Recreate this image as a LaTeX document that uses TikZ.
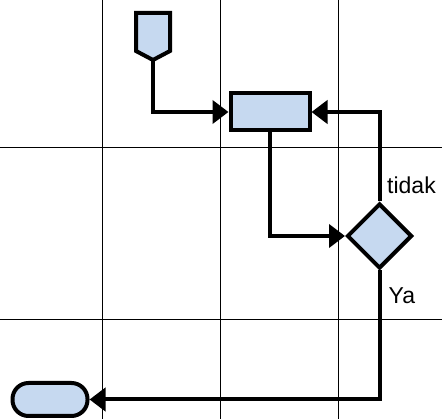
\documentclass[tikz,border=0pt]{standalone}
\usepackage{fontspec}
\setmainfont{Liberation Sans}
\usetikzlibrary{shapes.geometric,arrows.meta}
\definecolor{boxfill}{RGB}{198,217,240}
\tikzset{
  gridline/.style={line width=1pt,black},
  shapebox/.style={draw=black,line width=4pt,fill=boxfill,inner sep=0pt},
  proc/.style={shapebox,rectangle,minimum width=79pt,minimum height=37pt},
  decision/.style={shapebox,diamond,aspect=1,minimum width=65pt,minimum height=65pt},
  term/.style={shapebox,rectangle,rounded corners=16pt,minimum width=75pt,minimum height=33pt},
  conn/.style={line width=4pt,-{Triangle[length=16pt,width=23pt]}},
  lbl/.style={font=\fontsize{23}{27}\selectfont,inner sep=0pt,anchor=base west}
}
\begin{document}
\begin{tikzpicture}[x=1pt,y=-1pt]
\useasboundingbox (0,0) rectangle (442,419);
% grid
\foreach \gx in {102,220,338} \draw[gridline] (\gx,0) -- (\gx,419);
\foreach \gy in {148,320} \draw[gridline] (0,\gy) -- (442,\gy);
% off-page connector
\draw[shapebox,line join=miter] (136,13) -- (170,13) -- (170,51) -- (153,60) -- (136,51) -- cycle;
\coordinate (optip) at (153,60);
% nodes
\node[proc] (r) at (270,112) {};
\node[decision] (d) at (379.5,236) {};
\node[term] (t) at (50,399.5) {};
% connectors
\draw[conn] (optip) |- (r.west);
\draw[conn] (r.south) |- (d.west);
\draw[conn] (d.north) |- (r.east);
\draw[conn] (d.south) |- (t.east);
% labels
\node[lbl] (ltidak) at (387,193.3) {tidak};
\node[lbl] (lya) at (388.5,303.3) {Ya};
\end{tikzpicture}
\end{document}
